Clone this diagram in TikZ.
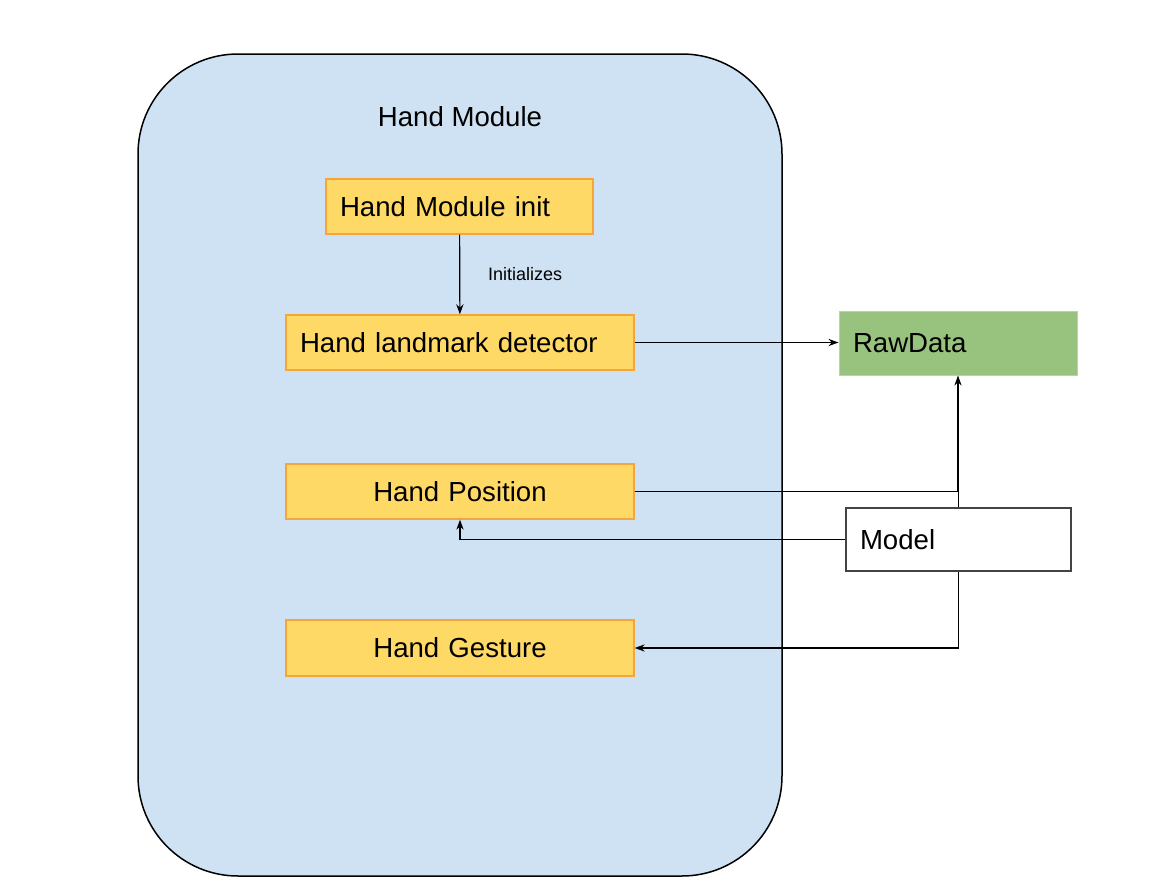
\documentclass[tikz,border=0pt]{standalone}
\usepackage{fontspec}
\setmainfont{Liberation Sans}
\usetikzlibrary{arrows.meta}
\definecolor{modblue}{HTML}{CFE2F3}
\definecolor{boxfill}{HTML}{FFD966}
\definecolor{boxline}{HTML}{F6A53A}
\definecolor{rawgreen}{HTML}{97C37F}
\definecolor{modelline}{HTML}{434343}
\tikzstyle{module} = [rectangle, rounded corners=50pt, minimum width=322pt, minimum height=411pt, draw=black, line width=0.75pt, fill=modblue]
\tikzstyle{step box} = [rectangle, minimum height=27.5pt, inner xsep=7pt, fill=boxfill, draw=boxline, line width=0.7pt, font=\fontsize{13.8}{17}\selectfont]
\tikzstyle{arrow} = [line width=0.6pt,-{Stealth[length=5pt,width=3.6pt]}]
\tikzstyle{line} = [line width=0.6pt]

\begin{document}
\begin{tikzpicture}[x=0.5pt,y=-0.5pt]
\useasboundingbox (0,0) rectangle (1175,889);
\node[module] (module) at (460,465) {};
\node[font=\fontsize{13.8}{17}\selectfont] (title) at (460,117) {Hand Module};
\node[step box, text width=119.5pt, align=left] (init) at (459.5,206.5) {Hand Module init};
\node[step box, text width=160pt, align=left] (detector) at (460,342.5) {Hand landmark detector};
\node[step box, text width=160pt, align=center] (position) at (460,491.5) {Hand Position};
\node[step box, text width=160pt, align=center, minimum height=28pt] (gesture) at (460,648) {Hand Gesture};
\node[rectangle, fill=rawgreen, draw=rawgreen!70!white, line width=0.5pt, minimum height=32pt, inner xsep=7pt, text width=105pt, align=left, font=\fontsize{13.8}{17}\selectfont] (raw) at (958,343) {RawData};
\node[rectangle, fill=white, draw=modelline, line width=0.7pt, minimum height=31.5pt, inner xsep=7pt, text width=98.5pt, align=left, font=\fontsize{13.8}{17}\selectfont] (model) at (958.5,539.5) {Model};

\draw[arrow] (init) -- node[midway, right=10.5pt, font=\fontsize{9}{11}\selectfont] {Initializes} (detector);
\draw[arrow] (detector.east) -- (detector.east -| raw.west);
\draw[arrow] (position.east) -| (raw.south);
\draw[line] (model.north) -- (model.north |- position.east);
\draw[arrow] (model.west) -| (position.south);
\draw[arrow] (model.south) |- (gesture.east);
\end{tikzpicture}
\end{document}
